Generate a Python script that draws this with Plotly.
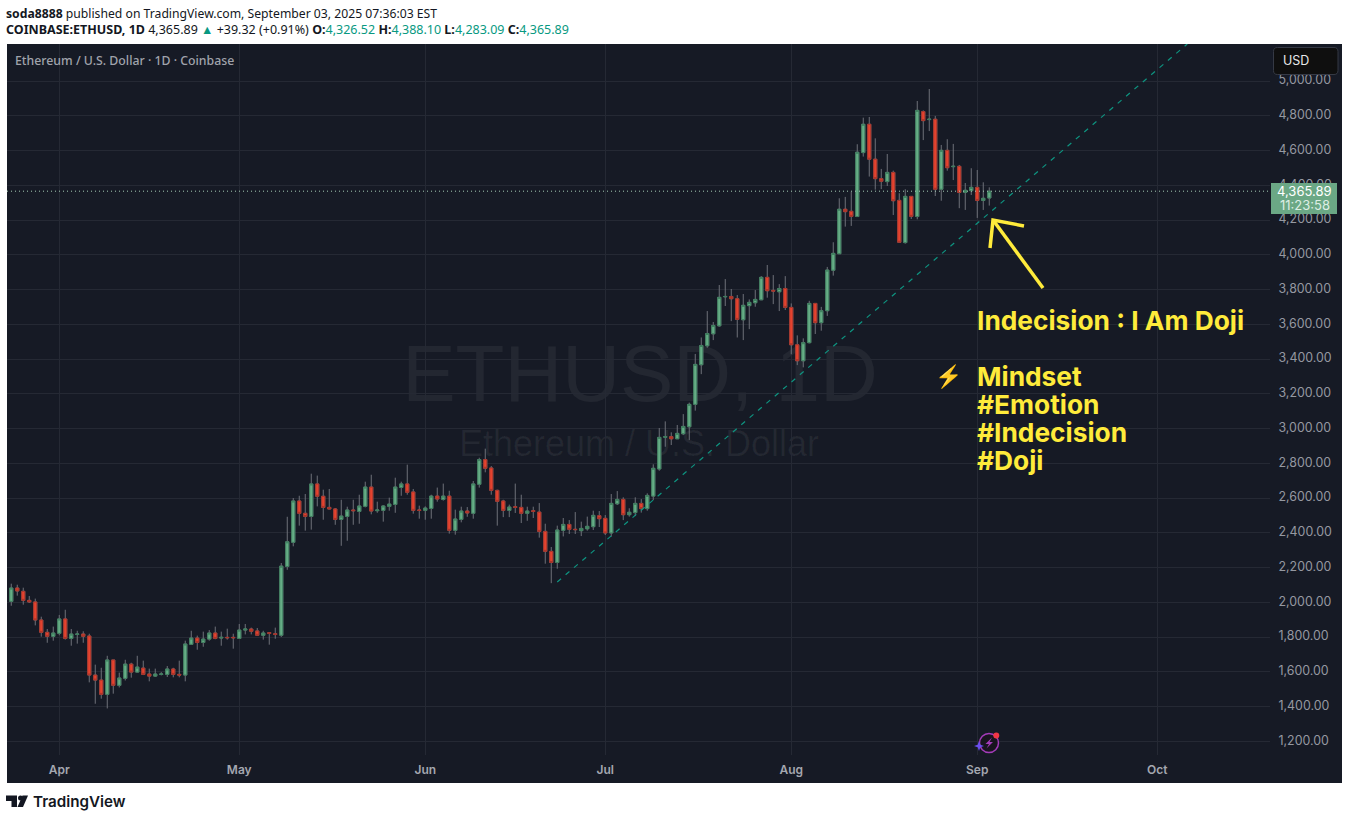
import pandas as pd
import plotly.graph_objects as go

W, H = 1349, 820
PLOT_L, PLOT_R, PLOT_T, PLOT_B = 7, 1270, 44, 755

first_date = "2025-03-24"
last_date = "2025-09-03"

opens = [
    2005, 2082, 2063, 2011, 2002, 1898, 1827, 1804,
    1821, 1904, 1792, 1815, 1817, 1806, 1581, 1552, 1470, 1668, 1522, 1562, 1644, 1598, 1621, 1587, 1575, 1585, 1585, 1616, 1585, 1581, 1758, 1794, 1769, 1788, 1823, 1794, 1798, 1798,
    1792, 1840, 1846, 1835, 1810, 1825, 1819, 1810, 2206, 2345, 2583, 2512, 2494, 2681, 2610, 2546, 2537, 2477, 2494, 2531, 2523, 2552, 2663, 2527, 2529, 2552, 2563, 2661, 2681, 2635, 2531,
    2529, 2540, 2611, 2592, 2611, 2414, 2477, 2525, 2512, 2679, 2821, 2773, 2644, 2583, 2529, 2550, 2546, 2512, 2527, 2519, 2408, 2293, 2229, 2414, 2448, 2420, 2412, 2423, 2435, 2498,
    2483, 2399, 2567, 2592, 2504, 2516, 2569, 2539, 2611, 2767, 2950, 2953, 2941, 2970, 3010, 3139, 3367, 3476, 3545, 3591, 3758, 3760, 3747, 3626, 3707, 3724, 3741, 3870, 3795, 3787, 3806,
    3697, 3482, 3390, 3494, 3720, 3609, 3678, 3911, 4006, 4262, 4250, 4220, 4588, 4751, 4550, 4438, 4421, 4474, 4313, 4070, 4336, 4220, 4824, 4778, 4780, 4377, 4601, 4507, 4509, 4359, 4369,
    4388, 4313, 4326.52,
]
highs = [
    2107, 2101, 2084, 2036, 2021, 1917, 1846, 1860,
    1927, 1957, 1846, 1836, 1833, 1819, 1641, 1623, 1692, 1668, 1595, 1669, 1652, 1692, 1664, 1618, 1618, 1598, 1633, 1623, 1664, 1779, 1836, 1808, 1831, 1840, 1860, 1831, 1848, 1819,
    1875, 1875, 1854, 1852, 1836, 1825, 1854, 2226, 2492, 2600, 2613, 2623, 2740, 2729, 2648, 2652, 2542, 2590, 2550, 2590, 2619, 2694, 2734, 2579, 2558, 2602, 2717, 2694, 2792, 2652, 2556,
    2552, 2619, 2660, 2683, 2642, 2533, 2550, 2548, 2698, 2832, 2884, 2784, 2648, 2590, 2562, 2683, 2619, 2550, 2550, 2571, 2452, 2318, 2441, 2485, 2473, 2519, 2464, 2493, 2527, 2525,
    2502, 2623, 2640, 2604, 2541, 2604, 2594, 2627, 2794, 3003, 3041, 2978, 3020, 3083, 3149, 3429, 3524, 3676, 3613, 3826, 3860, 3803, 3768, 3774, 3743, 3797, 3877, 3941, 3883, 3831, 3877,
    3720, 3536, 3519, 3735, 3720, 3700, 3930, 4072, 4325, 4333, 4363, 4636, 4789, 4793, 4670, 4494, 4580, 4484, 4354, 4377, 4336, 4885, 4831, 4954, 4799, 4632, 4665, 4638, 4517, 4413, 4498,
    4488, 4417, 4388.10,
]
lows = [
    1980, 2038, 1986, 1996, 1867, 1802, 1767, 1779,
    1810, 1785, 1750, 1762, 1767, 1539, 1416, 1445, 1389, 1474, 1510, 1550, 1566, 1596, 1581, 1545, 1570, 1579, 1570, 1568, 1568, 1545, 1758, 1727, 1744, 1779, 1787, 1750, 1785, 1733,
    1790, 1815, 1815, 1808, 1785, 1756, 1790, 1800, 2187, 2322, 2441, 2412, 2418, 2552, 2475, 2535, 2446, 2325, 2354, 2446, 2452, 2546, 2506, 2515, 2464, 2527, 2515, 2613, 2619, 2510, 2481,
    2475, 2481, 2579, 2585, 2395, 2389, 2460, 2492, 2481, 2660, 2748, 2619, 2441, 2490, 2490, 2514, 2456, 2469, 2485, 2372, 2222, 2110, 2193, 2379, 2393, 2393, 2381, 2412, 2416, 2433,
    2387, 2378, 2560, 2473, 2493, 2496, 2516, 2527, 2588, 2757, 2895, 2905, 2940, 2962, 2934, 3103, 3313, 3465, 3509, 3586, 3705, 3618, 3524, 3509, 3572, 3701, 3739, 3753, 3716, 3676, 3682,
    3427, 3365, 3352, 3490, 3544, 3563, 3648, 3880, 4006, 4162, 4166, 4220, 4565, 4450, 4375, 4378, 4396, 4229, 4072, 4064, 4206, 4204, 4660, 4712, 4338, 4311, 4484, 4430, 4268, 4258, 4344,
    4212, 4258, 4283.09,
]
closes = [
    2082, 2065, 2011, 2002, 1898, 1827, 1804, 1823,
    1904, 1792, 1817, 1817, 1804, 1581, 1552, 1470, 1668, 1522, 1564, 1644, 1598, 1627, 1585, 1575, 1587, 1587, 1616, 1585, 1581, 1760, 1794, 1769, 1788, 1823, 1792, 1798, 1796, 1796,
    1840, 1846, 1833, 1810, 1823, 1821, 1815, 2208, 2348, 2583, 2512, 2494, 2681, 2610, 2546, 2537, 2477, 2496, 2531, 2527, 2554, 2663, 2525, 2531, 2554, 2565, 2663, 2681, 2633, 2529, 2529,
    2542, 2611, 2594, 2611, 2414, 2479, 2525, 2514, 2681, 2821, 2771, 2644, 2581, 2529, 2548, 2546, 2512, 2525, 2523, 2408, 2293, 2229, 2416, 2448, 2420, 2418, 2425, 2437, 2500, 2481,
    2399, 2569, 2592, 2504, 2518, 2569, 2539, 2615, 2771, 2949, 2953, 2941, 2972, 3012, 3139, 3369, 3478, 3547, 3593, 3755, 3760, 3747, 3628, 3709, 3726, 3743, 3870, 3793, 3791, 3806, 3697,
    3482, 3390, 3494, 3720, 3609, 3678, 3912, 4008, 4262, 4248, 4221, 4590, 4751, 4550, 4438, 4423, 4474, 4311, 4072, 4336, 4221, 4831, 4772, 4780, 4377, 4601, 4501, 4509, 4359, 4371, 4388,
    4313, 4325, 4365.89,
]

trend_dates = ["2025-06-23", "2025-10-06"]
trend_prices = [2117, 5213]
last_price = 4365.89
y_ticks = list(range(1200, 5001, 200))
x_tick_dates = ["2025-04-01", "2025-05-01", "2025-06-01", "2025-07-01", "2025-08-01", "2025-09-01", "2025-10-01"]
x_tick_labels = ["Apr", "May", "Jun", "Jul", "Aug", "Sep", "Oct"]
axis_start = "2025-03-23 07:00"
axis_end = "2025-10-19 19:00"
y_min, y_max = 1121, 5213

dates = pd.date_range(first_date, last_date, freq="D")
for s in (opens, highs, lows, closes):
    if len(s) != len(dates):
        raise ValueError(f"length {len(s)} != {len(dates)}")

UP, DOWN = "#66AD86", "#E5432F"
UP_EDGE, DOWN_EDGE = "#3E7E5E", "#A8352A"
WICK = "#6F717A"
BG = "#161A25"
GRID = "#252934"


def X(p):
    return (p - PLOT_L) / (PLOT_R - PLOT_L)


def Y(p):
    return (PLOT_B - p) / (PLOT_B - PLOT_T)


fig = go.Figure()
# wicks
fig.add_trace(go.Candlestick(
    x=dates, open=opens, high=highs, low=lows, close=closes, whiskerwidth=0,
    increasing=dict(line=dict(color=WICK, width=1), fillcolor=WICK),
    decreasing=dict(line=dict(color=WICK, width=1), fillcolor=WICK),
    hoverinfo="skip", showlegend=False))
# bodies
body_hi = [max(a, b) for a, b in zip(opens, closes)]
body_lo = [min(a, b) for a, b in zip(opens, closes)]
fig.add_trace(go.Candlestick(
    x=dates, open=opens, high=body_hi, low=body_lo, close=closes, whiskerwidth=0,
    increasing=dict(line=dict(color=UP_EDGE, width=1), fillcolor=UP),
    decreasing=dict(line=dict(color=DOWN_EDGE, width=1), fillcolor=DOWN),
    showlegend=False))
fig.add_trace(go.Scatter(
    x=trend_dates, y=trend_prices, mode="lines", showlegend=False, hoverinfo="skip",
    line=dict(color="#0E9480", width=1.2, dash="5px,6px")))
fig.add_trace(go.Scatter(
    x=[axis_start, axis_end], y=[last_price, last_price], mode="lines", showlegend=False, hoverinfo="skip",
    line=dict(color="#A5CDB6", width=1, dash="1px,3px")))

shapes = [
    dict(type="rect", xref="paper", yref="paper", x0=X(7), x1=X(1342), y0=Y(783), y1=Y(44),
         fillcolor=BG, line=dict(width=0), layer="below"),
    dict(type="rect", xref="paper", yref="paper", x0=X(300), x1=X(980), y0=Y(329), y1=Y(401),
         fillcolor="rgba(0,0,0,0)", line=dict(width=0), layer="below",
         label=dict(text="ETHUSD, 1D", textposition="middle center",
                    font=dict(family="Liberation Sans", size=80, color="rgba(255,255,255,0.06)"))),
    dict(type="rect", xref="paper", yref="paper", x0=X(299), x1=X(979), y0=Y(420), y1=Y(460),
         fillcolor="rgba(0,0,0,0)", line=dict(width=0), layer="below",
         label=dict(text="Ethereum / U.S. Dollar", textposition="middle center",
                    font=dict(family="Liberation Sans", size=36, color="rgba(255,255,255,0.06)"))),
    # last price label
    dict(type="rect", xref="paper", yref="paper", x0=X(1271), x1=X(1337), y0=Y(214), y1=Y(183),
         fillcolor="#6BA885", line=dict(width=0)),
]


def path_shape(pts, color, width=0, fill=None, closed=True):
    d = "M" + " L".join(f"{X(a):.5f},{Y(b):.5f}" for a, b in pts) + (" Z" if closed else "")
    return dict(type="path", xref="paper", yref="paper", path=d,
                fillcolor=fill if fill else "rgba(0,0,0,0)",
                line=dict(color=color, width=width))


def round_rect(x0, y0, x1, y1, r, fill, color, width):
    def P(a, b):
        return f"{X(a):.5f},{Y(b):.5f}"
    d = (f"M{P(x0 + r, y0)} L{P(x1 - r, y0)} Q{P(x1, y0)} {P(x1, y0 + r)} L{P(x1, y1 - r)} "
         f"Q{P(x1, y1)} {P(x1 - r, y1)} L{P(x0 + r, y1)} Q{P(x0, y1)} {P(x0, y1 - r)} "
         f"L{P(x0, y0 + r)} Q{P(x0, y0)} {P(x0 + r, y0)} Z")
    return dict(type="path", xref="paper", yref="paper", path=d, fillcolor=fill,
                line=dict(color=color, width=width))


def circle(cx, cy, r, fill, color="rgba(0,0,0,0)", width=0):
    return dict(type="circle", xref="paper", yref="paper", x0=X(cx - r), x1=X(cx + r),
                y0=Y(cy + r), y1=Y(cy - r), fillcolor=fill, line=dict(color=color, width=width))


# currency button
shapes.append(round_rect(1273.5, 47.5, 1338, 74.5, 4, "#0F0F0F", "#363A45", 1))
# yellow arrow
YEL = "#FFEB3B"
shapes += [
    path_shape([(990, 248), (993, 220), (1024, 226)], YEL, 3.5, closed=False),
    path_shape([(993, 220), (1043, 288)], YEL, 3.5, closed=False),
]
# TradingView logo
INK = "#131722"
shapes += [
    path_shape([(6, 795.5), (17, 795.5), (17, 807), (11.5, 807), (11.5, 801), (6, 801)], INK, 0, INK),
    circle(20.5, 798, 2.5, INK),
    path_shape([(28, 795.5), (23, 807), (17.5, 807), (22.5, 795.5)], INK, 0, INK),
]
# purple badge
shapes += [
    circle(989, 743, 9.5, "#18141E", "#A33BB8", 1.5),
    path_shape([(992, 737.5), (985.5, 744), (989, 744), (986.5, 748.5), (993, 742), (989.5, 742)], "#A33BB8", 0, "#A33BB8"),
    path_shape([(979, 741), (980.3, 744.7), (984, 746), (980.3, 747.3), (979, 751), (977.7, 747.3), (974, 746), (977.7, 744.7)], "#6B4FF0", 0, "#6B4FF0"),
    circle(996.3, 735.5, 3, "#F23645"),
]


def note(x, y, text, size, color, family="Noto Sans", weight=None, anchor="left"):
    f = dict(family=family, size=size, color=color)
    if weight:
        f["weight"] = weight
    return dict(xref="paper", yref="paper", x=X(x), y=Y(y), text=text, showarrow=False,
                xanchor=anchor, yanchor="middle", font=f, borderpad=0, borderwidth=0)


T = "#089981"
annos = [
    note(6, 13, "<b>soda8888</b> published on TradingView.com, September 03, 2025 07:36:03 EST", 12.2, "#131722"),
    note(6, 29, f"<b>COINBASE:ETHUSD, 1D</b> 4,365.89 <span style='color:{T}'>▲</span> +39.32 (+0.91%) "
                f"<b>O:</b><span style='color:{T}'>4,326.52</span> <b>H:</b><span style='color:{T}'>4,388.10</span> "
                f"<b>L:</b><span style='color:{T}'>4,283.09</span> <b>C:</b><span style='color:{T}'>4,365.89</span>", 12.5, "#131722"),
    note(15, 60, "Ethereum / U.S. Dollar · 1D · Coinbase", 12.3, "#A0A3AC", weight=500),
    note(1283, 60.5, "USD", 12.5, "#E8E8EA", "Inter"),
    note(1304.5, 190.5, "4,365.89", 13, "#FFFFFF", "Inter", anchor="center"),
    note(1304.5, 204.5, "11:23:58", 13, "#DDEEE4", "Inter", anchor="center"),
    note(977, 320, "Indecision : I Am Doji", 26.3, YEL, "Inter", 700),
    note(977, 376, "Mindset", 26.3, YEL, "Inter", 700),
    note(977, 404, "#Emotion", 26.3, YEL, "Inter", 700),
    note(977, 432, "#Indecision", 26.3, YEL, "Inter", 700),
    note(977, 460, "#Doji", 26.3, YEL, "Inter", 700),
    note(948, 375, "⚡", 22, "#F9A825", anchor="center"),
    note(33, 801, "TradingView", 15.2, INK, "Inter", 600),
]

fig.update_layout(
    width=W, height=H, autosize=False,
    margin=dict(l=PLOT_L, r=W - PLOT_R, t=PLOT_T, b=H - PLOT_B, pad=0),
    paper_bgcolor="#FFFFFF", plot_bgcolor="rgba(0,0,0,0)",
    shapes=shapes, annotations=annos, hovermode=False, dragmode=False,
    boxgap=0.25, boxmode="overlay",
    xaxis=dict(type="date", range=[axis_start, axis_end], rangeslider=dict(visible=False),
               tickmode="array", tickvals=x_tick_dates, ticktext=x_tick_labels,
               showgrid=True, gridcolor=GRID, gridwidth=1, zeroline=False, showline=False,
               ticks="outside", ticklen=4, tickcolor="rgba(0,0,0,0)",
               tickfont=dict(family="Inter", size=12, color="#A4A7B0", weight=600)),
    yaxis=dict(range=[y_min, y_max], side="right", tickmode="array", tickvals=y_ticks,
               ticktext=[f"{v:,.2f}" for v in y_ticks],
               showgrid=True, gridcolor=GRID, gridwidth=1, zeroline=False, showline=False,
               ticks="outside", ticklen=5, tickcolor="rgba(0,0,0,0)", ticklabelshift=-1,
               tickfont=dict(family="Inter", size=12.4, color="#9598A1")),
)

fig.write_html("out.html", config={"displayModeBar": False, "responsive": False},
               post_script="document.body.style.margin='0';document.body.style.overflow='hidden';")
